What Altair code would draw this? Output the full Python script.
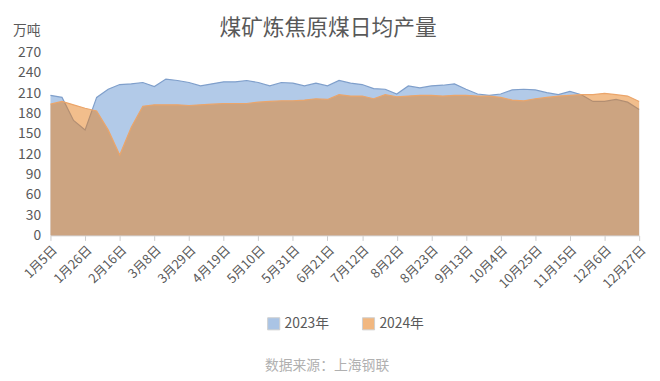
import altair as alt
import pandas as pd

dates = pd.date_range("2024-01-05", periods=52, freq="7D")
labels = [f"{d.month}月{d.day}日" for d in dates]
tick_labels = labels[::3]
series_names = ["2023年", "2024年"]

y2023 = [207, 204, 170, 156, 204, 216, 223, 224, 226, 220,
         231, 229, 226, 221, 224, 227, 227, 229, 226, 221,
         226, 225, 221, 225, 221, 229, 225, 223, 217, 216,
         209, 221, 218, 221, 222, 224, 216, 209, 207, 209,
         215, 216, 215, 211, 208, 213, 208, 198, 198, 201,
         197, 186]
y2024 = [194, 198, 193, 188, 184, 156, 119, 160, 191, 193,
         193, 193, 192, 193, 194, 195, 195, 195, 197, 198,
         199, 199, 200, 202, 201, 208, 206, 206, 202, 208,
         205, 206, 207, 207, 206, 207, 207, 206, 206, 204,
         200, 199, 202, 204, 206, 207, 208, 208, 210, 208,
         206, 198]

title_text = "煤矿炼焦原煤日均产量"
unit_text = "万吨"
source_text = "数据来源：上海钢联"

df = pd.DataFrame({
    "date": labels * 2,
    "series": [series_names[0]] * 52 + [series_names[1]] * 52,
    "value": y2023 + y2024,
})

FONT = "Noto Sans CJK SC"
GRAY = "#595959"

x_enc = alt.X(
    "date:O", sort=labels, title=None,
    scale=alt.Scale(type="point", padding=0),
    axis=alt.Axis(values=tick_labels, labelAngle=-45, labelFontSize=13,
                  labelColor=GRAY, labelFont=FONT, domainColor="#d9d9d9",
                  tickColor="#cccccc", tickSize=5, labelPadding=3),
)
y_enc = alt.Y(
    "value:Q", title=None,
    scale=alt.Scale(domain=[0, 270], nice=False),
    axis=alt.Axis(values=list(range(0, 271, 30)), grid=False, domain=False,
                  ticks=False, labelFontSize=14, labelColor=GRAY,
                  labelFont=FONT, labelPadding=10),
)
color_enc = alt.Color(
    "series:N",
    scale=alt.Scale(domain=series_names, range=["#6595d1", "#e67e1a"]),
    legend=alt.Legend(title=None, orient="none", legendX=219, legendY=267,
                      direction="horizontal", symbolType="square",
                      symbolSize=150, symbolOpacity=0.55, symbolStrokeWidth=1,
                      symbolStrokeColor="#aaaaaa",
                      labelFontSize=14, labelColor=GRAY, labelFont=FONT,
                      columnPadding=30, labelOffset=4),
)

base = alt.Chart(df)

area23 = base.transform_filter(alt.datum.series == series_names[0]).mark_area(opacity=0.5).encode(
    x=x_enc, y=y_enc, color=color_enc)
line23 = base.transform_filter(alt.datum.series == series_names[0]).mark_line(
    color="#7f9fcb", strokeWidth=1.2).encode(x=x_enc, y=y_enc)
area24 = base.transform_filter(alt.datum.series == series_names[1]).mark_area(opacity=0.5).encode(
    x=x_enc, y=y_enc, color=color_enc)
line24 = base.transform_filter(alt.datum.series == series_names[1]).mark_line(
    color="#eba56a", strokeWidth=1.2).encode(x=x_enc, y=y_enc)

title_layer = alt.Chart(pd.DataFrame({"t": [title_text]})).mark_text(
    font=FONT, fontSize=22, color=GRAY, align="center", baseline="middle"
).encode(text="t:N", x=alt.value(281), y=alt.value(-25))

unit_layer = alt.Chart(pd.DataFrame({"t": [unit_text]})).mark_text(
    font=FONT, fontSize=14, color=GRAY, align="left", baseline="middle"
).encode(text="t:N", x=alt.value(-38), y=alt.value(-22))

source_layer = alt.Chart(pd.DataFrame({"t": [source_text]})).mark_text(
    font=FONT, fontSize=14, color="#b0b0b0", align="center", baseline="middle"
).encode(text="t:N", x=alt.value(280), y=alt.value(317))

chart = alt.layer(area23, line23, area24, line24, title_layer, unit_layer, source_layer).properties(
    width=596, height=185,
    autosize=alt.AutoSizeParams(type="none"),
    padding={"left": 43, "top": 43, "right": 13, "bottom": 140},
).configure_view(stroke=None)

chart.save("out.html", embed_options={"renderer": "svg", "actions": False})
